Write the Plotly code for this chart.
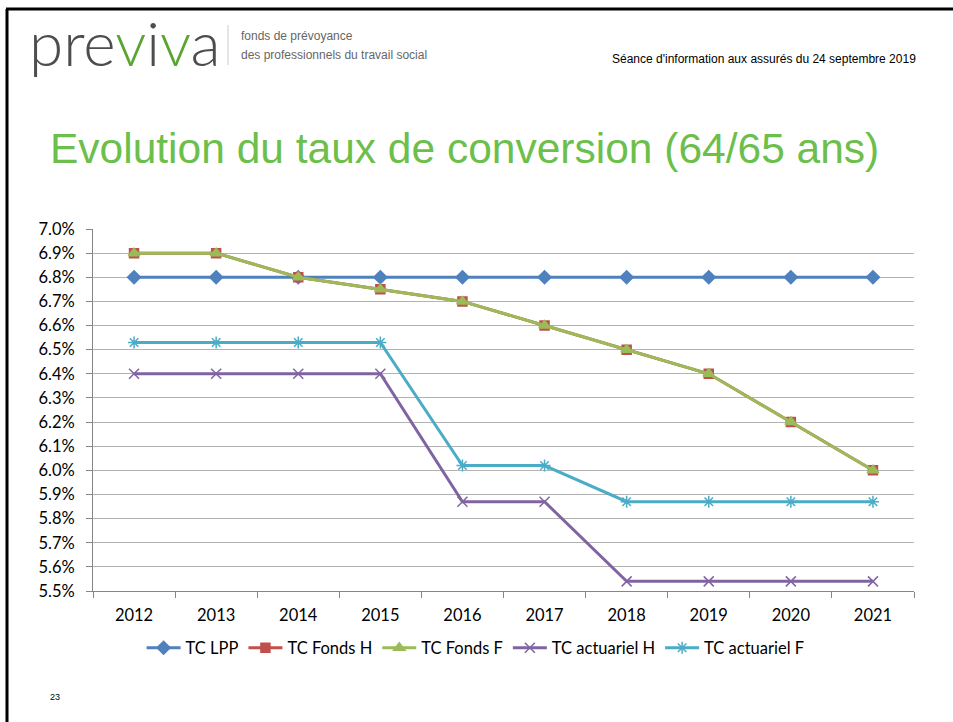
import plotly.graph_objects as go

years = ["2012", "2013", "2014", "2015", "2016", "2017", "2018", "2019", "2020", "2021"]
tc_lpp = [6.8, 6.8, 6.8, 6.8, 6.8, 6.8, 6.8, 6.8, 6.8, 6.8]
tc_fonds_h = [6.9, 6.9, 6.8, 6.75, 6.7, 6.6, 6.5, 6.4, 6.2, 6.0]
tc_fonds_f = [6.9, 6.9, 6.8, 6.75, 6.7, 6.6, 6.5, 6.4, 6.2, 6.0]
tc_act_h = [6.4, 6.4, 6.4, 6.4, 5.87, 5.87, 5.54, 5.54, 5.54, 5.54]
tc_act_f = [6.53, 6.53, 6.53, 6.53, 6.02, 6.02, 5.87, 5.87, 5.87, 5.87]
y_ticks = [5.5, 5.6, 5.7, 5.8, 5.9, 6.0, 6.1, 6.2, 6.3, 6.4, 6.5, 6.6, 6.7, 6.8, 6.9, 7.0]
y_labels = [f"{v:.1f}%" for v in y_ticks]

W, H = 953, 722
L, R, T, B = 93, 914, 229, 591


def px(x):
    return (x - L) / (R - L)


def py(y):
    return (B - y) / (B - T)


CH = "Lato, Carlito, 'Open Sans', sans-serif"
AR = "'Liberation Sans', Arial, sans-serif"

series = [
    ("TC LPP", tc_lpp, "#4F81BD", dict(symbol="diamond", size=10)),
    ("TC Fonds H", tc_fonds_h, "#C0504D", dict(symbol="square", size=9)),
    ("TC Fonds F", tc_fonds_f, "#9BBB59", dict(symbol="triangle-up", size=10)),
    ("TC actuariel H", tc_act_h, "#8064A2", dict(symbol="x-thin-open", size=10)),
    ("TC actuariel F", tc_act_f, "#4BACC6", dict(symbol="asterisk-open", size=10)),
]

fig = go.Figure()
for name, vals, col, mk in series:
    m = dict(mk)
    m["color"] = col
    m["line"] = dict(color=col, width=1.5)
    fig.add_trace(go.Scatter(x=years, y=vals, name=name, mode="lines+markers",
                             line=dict(color=col, width=3), marker=m))

fig.update_layout(
    width=W, height=H,
    margin=dict(l=L, r=W - R, t=T, b=H - B, pad=0),
    paper_bgcolor="white", plot_bgcolor="white",
    showlegend=True,
    legend=dict(orientation="h", x=0.466, xanchor="center", y=py(648), yanchor="middle",
                font=dict(family=CH, size=16.5, color="#000"), itemwidth=34,
                traceorder="normal"),
    xaxis=dict(type="category", range=[-0.5, 9.5], tickson="boundaries",
               ticks="outside", ticklen=6, tickcolor="#868686",
               showgrid=False, showline=True, linecolor="#868686", linewidth=1,
               ticklabelstandoff=9,
               tickfont=dict(family=CH, size=16.5, color="#000"), zeroline=False),
    yaxis=dict(range=[5.5, 7.0], tickvals=y_ticks, ticktext=y_labels,
               ticks="outside", ticklen=6, tickcolor="#868686",
               showgrid=True, gridcolor="#b3b3b3", gridwidth=1,
               showline=True, linecolor="#868686", linewidth=1, zeroline=False,
               ticklabelstandoff=8,
               tickfont=dict(family=CH, size=16.5, color="#000")),
)

# Slide decorations
anns = [
    dict(x=px(27), y=py(42), xanchor="left", yanchor="middle",
         text='pre<span style="color:#5aa532">v</span>i<span style="color:#5aa532">v</span>a',
         font=dict(family="Lato, " + AR, size=62, color="#4d4d4d", weight=300)),
    dict(x=px(239), y=py(36), xanchor="left", yanchor="middle", text="fonds de prévoyance",
         font=dict(family=AR, size=12, color="#666")),
    dict(x=px(239), y=py(55), xanchor="left", yanchor="middle",
         text="des professionnels du travail social",
         font=dict(family=AR, size=12, color="#666")),
    dict(x=px(918), y=py(59), xanchor="right", yanchor="middle",
         text="Séance d'information aux assurés du 24 septembre 2019",
         font=dict(family=AR, size=12, color="#000")),
    dict(x=px(48), y=py(149), xanchor="left", yanchor="middle",
         text="Evolution du taux de conversion (64/65 ans)",
         font=dict(family=AR, size=42.5, color="#6cbf4a")),
    dict(x=px(48), y=py(697), xanchor="left", yanchor="middle", text="23",
         font=dict(family=AR, size=9, color="#000")),
]
for a in anns:
    a.update(xref="paper", yref="paper", showarrow=False)
    fig.add_annotation(**a)

shapes = [
    dict(type="line", x0=px(228), x1=px(228), y0=py(25), y1=py(65),
         line=dict(color="#cccccc", width=1)),
    dict(type="line", x0=px(7), x1=px(7), y0=py(9), y1=py(722),
         line=dict(color="#000", width=3)),
    dict(type="line", x0=px(6), x1=px(953), y0=py(9), y1=py(9),
         line=dict(color="#000", width=3)),
]
for s in shapes:
    s.update(xref="paper", yref="paper", layer="above")
    fig.add_shape(**s)

fig.write_html("out.html", config={"displayModeBar": False},
               post_script="document.body.style.margin='0';document.body.style.overflow='hidden';")
